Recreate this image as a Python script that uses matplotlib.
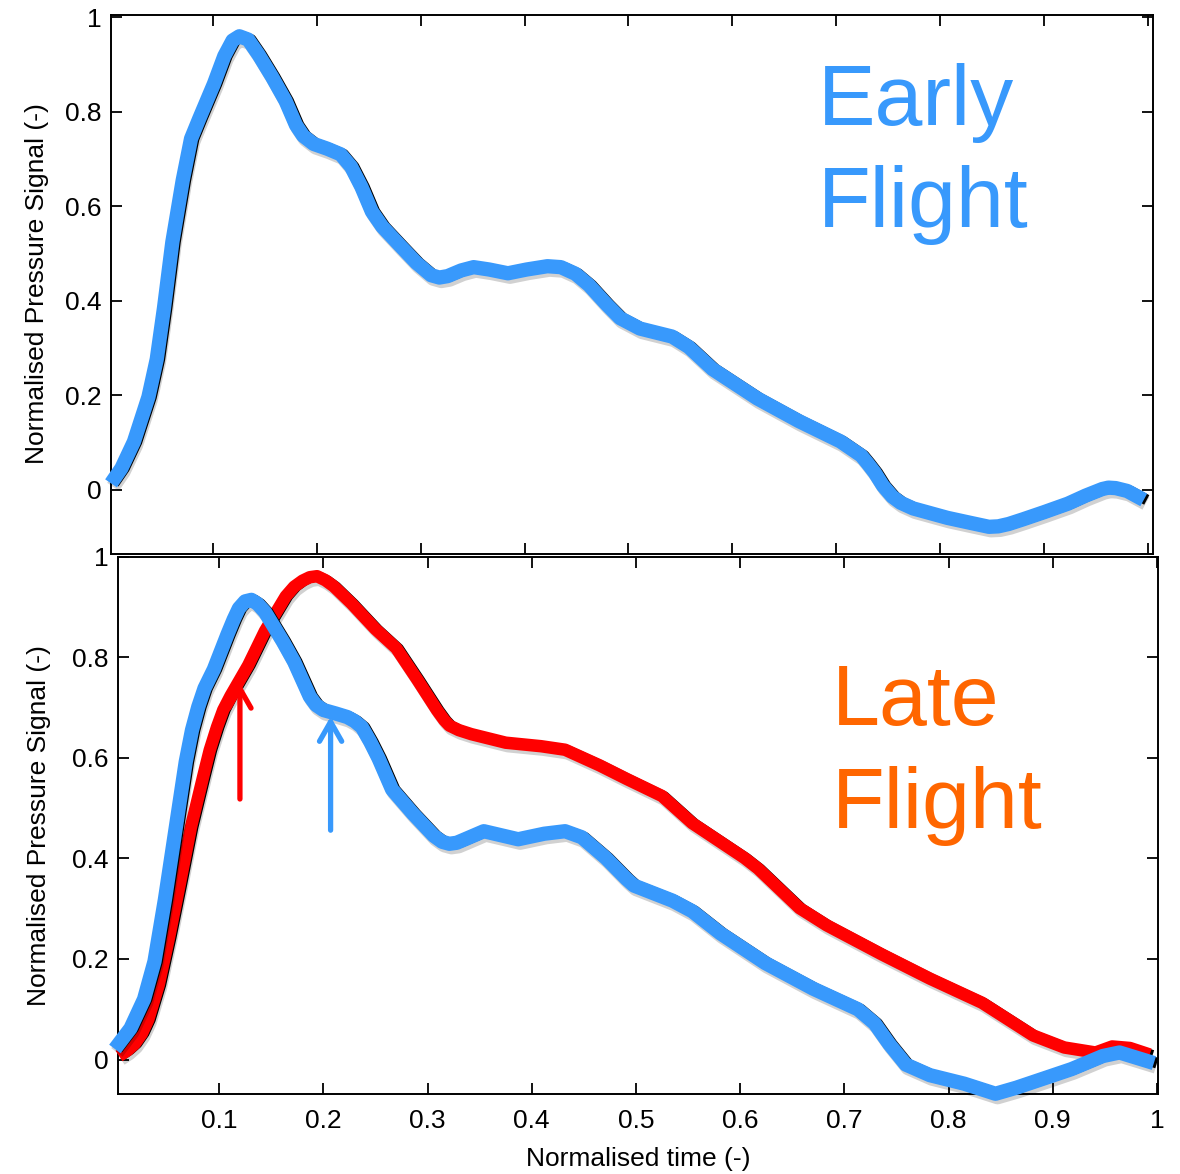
import matplotlib
matplotlib.use("Agg")
import matplotlib.pyplot as plt
import matplotlib.patheffects as pe
from matplotlib.transforms import offset_copy

plt.rcParams['font.family'] = ['Liberation Sans', 'DejaVu Sans']

# early flight pulse (upper panel)
early_t = [0.002, 0.012, 0.024, 0.038, 0.046, 0.053, 0.061, 0.071, 0.079, 0.087,
           0.101, 0.111, 0.119, 0.1255, 0.134, 0.144, 0.157, 0.170, 0.180, 0.187,
           0.197, 0.210, 0.223, 0.233, 0.243, 0.253, 0.263, 0.280, 0.296, 0.310,
           0.318, 0.326, 0.339, 0.351, 0.366, 0.384, 0.402, 0.422, 0.435, 0.449,
           0.462, 0.479, 0.492, 0.511, 0.542, 0.558, 0.581, 0.624, 0.664, 0.704,
           0.724, 0.730, 0.737, 0.745, 0.754, 0.762, 0.774, 0.807, 0.830, 0.847,
           0.856, 0.866, 0.880, 0.900, 0.923, 0.940, 0.956, 0.962, 0.969, 0.980, 0.996]
early_p = [0.013, 0.045, 0.101, 0.196, 0.276, 0.385, 0.524, 0.655, 0.743, 0.786,
           0.859, 0.918, 0.951, 0.960, 0.953, 0.921, 0.874, 0.823, 0.772, 0.749,
           0.732, 0.722, 0.710, 0.684, 0.641, 0.589, 0.557, 0.517, 0.480, 0.454,
           0.449, 0.452, 0.464, 0.471, 0.466, 0.458, 0.466, 0.473, 0.471, 0.457,
           0.433, 0.392, 0.363, 0.341, 0.324, 0.302, 0.255, 0.193, 0.145, 0.102,
           0.072, 0.056, 0.036, 0.008, -0.015, -0.028, -0.040, -0.060, -0.071, -0.079,
           -0.078, -0.073, -0.063, -0.048, -0.030, -0.013, 0.001, 0.004, 0.003, -0.003, -0.022]

# late flight pulse (lower panel, red)
late_t = [0.004, 0.012, 0.019, 0.026, 0.032, 0.042, 0.052, 0.062, 0.073, 0.085,
          0.091, 0.098, 0.104, 0.111, 0.128, 0.144, 0.164, 0.172, 0.180, 0.187,
          0.194, 0.202, 0.210, 0.227, 0.250, 0.270, 0.290, 0.309, 0.316, 0.321,
          0.330, 0.342, 0.375, 0.409, 0.432, 0.465, 0.491, 0.525, 0.554, 0.604,
          0.617, 0.657, 0.683, 0.736, 0.782, 0.832, 0.881, 0.911, 0.941, 0.957,
          0.974, 0.993]
late_p = [0.007, 0.018, 0.031, 0.052, 0.079, 0.148, 0.243, 0.346, 0.462, 0.565,
          0.615, 0.661, 0.695, 0.723, 0.784, 0.852, 0.921, 0.940, 0.952, 0.959,
          0.961, 0.953, 0.941, 0.907, 0.856, 0.818, 0.756, 0.695, 0.675, 0.664,
          0.655, 0.647, 0.630, 0.623, 0.616, 0.585, 0.558, 0.524, 0.470, 0.401,
          0.380, 0.301, 0.267, 0.209, 0.161, 0.113, 0.048, 0.024, 0.014, 0.026,
          0.023, 0.010]

# early flight pulse repeated in the lower panel for comparison
ref_t = [0.000, 0.015, 0.028, 0.038, 0.048, 0.058, 0.068, 0.074, 0.080, 0.086,
         0.095, 0.108, 0.114, 0.119, 0.125, 0.131, 0.137, 0.144, 0.161, 0.172,
         0.187, 0.193, 0.200, 0.212, 0.223, 0.230, 0.237, 0.245, 0.253, 0.266,
         0.286, 0.306, 0.314, 0.321, 0.328, 0.336, 0.354, 0.387, 0.412, 0.432,
         0.448, 0.471, 0.491, 0.498, 0.535, 0.554, 0.581, 0.624, 0.670, 0.713,
         0.729, 0.743, 0.759, 0.782, 0.815, 0.845, 0.865, 0.898, 0.918, 0.948,
         0.964, 0.997]
ref_p = [0.021, 0.062, 0.120, 0.195, 0.318, 0.455, 0.592, 0.655, 0.701, 0.738,
         0.776, 0.845, 0.875, 0.897, 0.911, 0.914, 0.906, 0.890, 0.832, 0.791,
         0.722, 0.705, 0.695, 0.688, 0.681, 0.673, 0.661, 0.632, 0.599, 0.537,
         0.489, 0.445, 0.433, 0.429, 0.431, 0.438, 0.454, 0.438, 0.449, 0.454,
         0.442, 0.401, 0.359, 0.346, 0.316, 0.295, 0.251, 0.192, 0.141, 0.100,
         0.072, 0.031, -0.010, -0.031, -0.048, -0.068, -0.056, -0.033, -0.019, 0.007,
         0.014, -0.007]

yticks = [0, 0.2, 0.4, 0.6, 0.8, 1.0]
ytick_labels = ['0', '0.2', '0.4', '0.6', '0.8', '1']
xticks = [0.1, 0.2, 0.3, 0.4, 0.5, 0.6, 0.7, 0.8, 0.9, 1.0]
xtick_labels = ['0.1', '0.2', '0.3', '0.4', '0.5', '0.6', '0.7', '0.8', '0.9', '1']

BLUE = '#3899FC'
RED = '#FF0000'
ORANGE = '#FF6600'
FS = 19

fig = plt.figure(figsize=(11.8, 11.74), dpi=100)
ax1 = fig.add_axes([0.0941, 0.5285, 0.8831, 0.4591])
ax2 = fig.add_axes([0.1000, 0.0681, 0.8814, 0.4578])

shadow = [pe.SimpleLineShadow(offset=(1.5, -2.5), shadow_color='k', alpha=0.18),
          pe.Normal()]


def trace(ax, t, p, color, lw, z):
    # thin raw trace peeking out beside the smoothed one
    raw = offset_copy(ax.transData, fig=fig, x=3, y=0, units='dots')
    ax.plot(t, p, color='k', lw=lw - 2.5, transform=raw, zorder=z - 1,
            solid_capstyle='butt', solid_joinstyle='round', clip_on=False)
    ax.plot(t, p, color=color, lw=lw, zorder=z, solid_capstyle='butt',
            solid_joinstyle='round', path_effects=shadow, clip_on=False)


def style(ax):
    ax.set_yticks(yticks)
    ax.set_yticklabels(ytick_labels)
    ax.set_xticks(xticks)
    ax.tick_params(direction='in', length=8, width=1.3, top=True, right=True,
                   labelsize=FS, pad=7)
    ax.tick_params(axis='x', pad=11)
    for s in ax.spines.values():
        s.set_linewidth(1.4)
    ax.set_ylabel('Normalised Pressure Signal (-)', fontsize=FS)


trace(ax1, early_t, early_p, BLUE, 10.3, 5)
ax1.set_xlim(0.002, 1.005)
ax1.set_ylim(-0.1356, 1.006)
style(ax1)
ax1.set_xticklabels([])
ax1.yaxis.set_label_coords(-0.060, 0.5)
ax1.text(0.678, 0.795, 'Early', transform=ax1.transAxes, color=BLUE,
         fontsize=62, va='baseline', ha='left')
ax1.text(0.678, 0.606, 'Flight', transform=ax1.transAxes, color=BLUE,
         fontsize=62, va='baseline', ha='left')

trace(ax2, late_t, late_p, RED, 9.0, 4)
trace(ax2, ref_t, ref_p, BLUE, 10.3, 6)
ax2.set_xlim(0.003, 1.001)
ax2.set_ylim(-0.0686, 1.0)
style(ax2)
ax2.set_xticklabels(xtick_labels)
ax2.set_xlabel('Normalised time (-)', fontsize=FS, labelpad=10)
ax2.yaxis.set_label_coords(-0.064, 0.5)
ax2.text(0.686, 0.687, 'Late', transform=ax2.transAxes, color=ORANGE,
         fontsize=62, va='baseline', ha='left')
ax2.text(0.686, 0.495, 'Flight', transform=ax2.transAxes, color=ORANGE,
         fontsize=62, va='baseline', ha='left')

# arrows marking the reflected-wave shoulder
head = '->,head_length=0.7,head_width=0.4'
ax2.annotate('', xy=(0.120, 0.748), xytext=(0.120, 0.518),
             arrowprops=dict(arrowstyle=head, color=RED, lw=3.8,
                             mutation_scale=20, shrinkA=0, shrinkB=0), zorder=7)
ax2.annotate('', xy=(0.207, 0.682), xytext=(0.207, 0.456),
             arrowprops=dict(arrowstyle=head, color=BLUE, lw=3.8,
                             mutation_scale=20, shrinkA=0, shrinkB=0), zorder=7)

fig.savefig('out.png', dpi=100, facecolor='white')
